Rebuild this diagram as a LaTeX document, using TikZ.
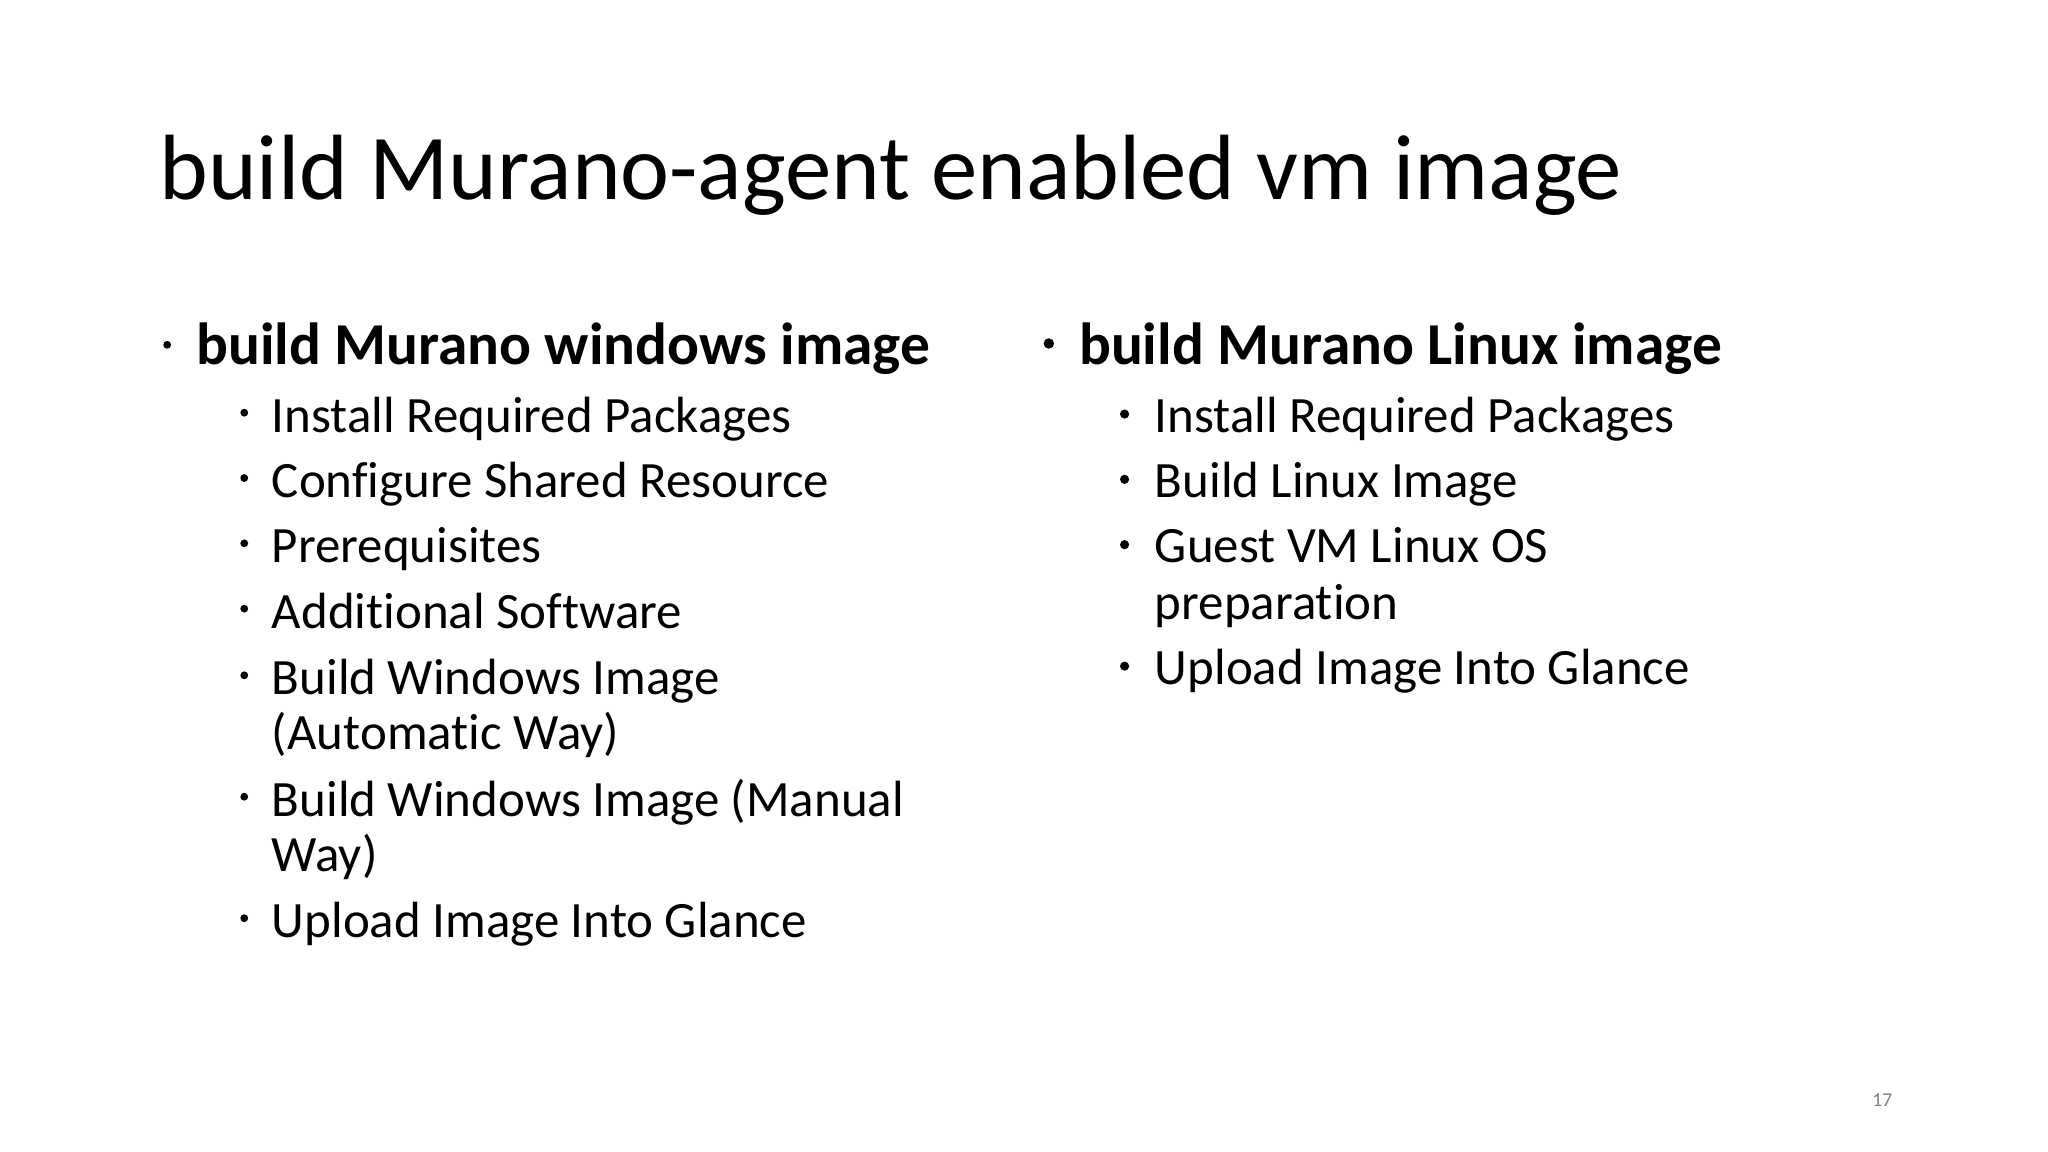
\documentclass[tikz,border=0pt]{standalone}
\usepackage{fontspec}
\setmainfont[Ligatures=NoCommon]{Carlito}
\begin{document}
\begin{tikzpicture}[x=1pt,y=-1pt,
  t/.style={anchor=base west,inner sep=0pt,font=\fontsize{39}{42}\selectfont},
  h/.style={anchor=base west,inner sep=0pt,font=\fontsize{45.5}{48}\selectfont\bfseries},
  dot/.style={circle,fill=black,inner sep=0pt,minimum size=#1}]
\fill[white] (0,0) rectangle (1568,882);
\node[anchor=base west,inner sep=0pt,font=\fontsize{71}{75}\selectfont] (title) at (122,153) {build Murano-agent enabled vm image};
% left
\node[dot=6pt] (bl) at (128,264) {};
\node[h] (hl) at (150,279) {build Murano windows image};
\foreach \y/\txt/\b [count=\i] in {331/Install Required Packages/1,381/Configure Shared Resource/1,431/Prerequisites/1,481/Additional Software/1,532/Build Windows Image/1,574/(Automatic Way)/0,625/Build Windows Image (Manual/1,667/Way)/0,718/Upload Image Into Glance/1}{
  \node[t] (l\i) at (208,\y) {\txt};
  \ifnum\b=1 \node[dot=6pt] (lb\i) at (187,\y-15) {};\fi
}
% right
\node[dot=8pt] (br) at (803,263) {};
\node[h] (hr) at (826,279) {build Murano Linux image};
\foreach \y/\txt/\b [count=\i] in {331/Install Required Packages/1,381/Build Linux Image/1,431/Guest VM Linux OS/1,474/preparation/0,524/Upload Image Into Glance/1}{
  \node[t] (r\i) at (884,\y) {\txt};
  \ifnum\b=1 \node[dot=7pt] (rb\i) at (861,\y-14) {};\fi
}
\node[anchor=base east,inner sep=0pt,font=\fontsize{15}{16}\selectfont,text=gray] (pg) at (1449,847) {17};
\end{tikzpicture}
\end{document}
